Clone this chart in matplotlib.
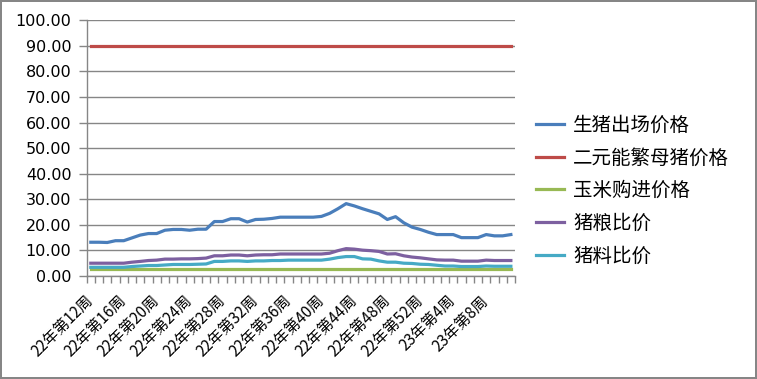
import numpy as np
import matplotlib
matplotlib.use("Agg")
import matplotlib.pyplot as plt

plt.rcParams['font.family'] = ['Noto Sans CJK SC', 'DejaVu Sans']

# === Datos ===
semanas_22 = list(range(12, 53))
semanas_23 = list(range(1, 12))
categorias = [f"22年第{w}周" for w in semanas_22] + [f"23年第{w}周" for w in semanas_23]

precio_cerdo = [13.2, 13.2, 13.1, 13.8, 13.8, 14.9, 16.0, 16.6, 16.6, 17.9,
                18.2, 18.2, 17.9, 18.3, 18.3, 21.3, 21.3, 22.4, 22.4, 21.1,
                22.1, 22.2, 22.5, 23.0, 23.0, 23.0, 23.0, 23.0, 23.3, 24.5,
                26.3, 28.3, 27.4, 26.3, 25.3, 24.3, 22.1, 23.2, 20.8, 19.1,
                18.2, 17.1, 16.2, 16.2, 16.2, 15.0, 15.0, 15.0, 16.2, 15.7,
                15.7, 16.2]
precio_cerda = [90.0] * 52
precio_maiz = [2.7, 2.7, 2.7, 2.7, 2.7, 2.7, 2.7, 2.7, 2.7, 2.7,
               2.7, 2.7, 2.7, 2.7, 2.7, 2.7, 2.7, 2.7, 2.7, 2.7,
               2.7, 2.7, 2.7, 2.7, 2.7, 2.7, 2.7, 2.7, 2.7, 2.7,
               2.7, 2.7, 2.7, 2.7, 2.7, 2.7, 2.7, 2.7, 2.7, 2.7,
               2.7, 2.7, 2.7, 2.7, 2.7, 2.7, 2.7, 2.7, 2.7, 2.7,
               2.7, 2.7]
ratio_grano = [5.0, 5.0, 5.0, 5.0, 5.0, 5.4, 5.7, 6.05, 6.2, 6.6,
               6.6, 6.7, 6.7, 6.8, 7.0, 7.9, 7.9, 8.2, 8.2, 7.9,
               8.2, 8.3, 8.3, 8.6, 8.6, 8.6, 8.6, 8.6, 8.6, 8.9,
               9.9, 10.7, 10.5, 10.1, 9.9, 9.6, 8.6, 8.7, 7.9, 7.4,
               7.1, 6.7, 6.3, 6.2, 6.2, 5.8, 5.8, 5.8, 6.2, 6.05,
               6.05, 6.05]
ratio_pienso = [3.4, 3.4, 3.4, 3.4, 3.4, 3.7, 3.9, 4.1, 4.1, 4.3,
                4.5, 4.5, 4.5, 4.6, 4.7, 5.7, 5.7, 5.9, 5.9, 5.7,
                5.9, 5.9, 6.05, 6.05, 6.2, 6.2, 6.2, 6.2, 6.2, 6.6,
                7.2, 7.6, 7.6, 6.7, 6.6, 5.9, 5.4, 5.4, 5.0, 4.9,
                4.6, 4.5, 4.2, 3.9, 3.9, 3.7, 3.7, 3.7, 3.9, 3.8,
                3.8, 3.8]

series = [
    ("生猪出场价格", precio_cerdo, "#4A7EBB"),
    ("二元能繁母猪价格", precio_cerda, "#BE4B48"),
    ("玉米购进价格", precio_maiz, "#98B954"),
    ("猪粮比价", ratio_grano, "#7D60A0"),
    ("猪料比价", ratio_pienso, "#46AAC5"),
]

gris = "#868686"

# === Gráfico ===
fig = plt.figure(figsize=(7.57, 3.79), dpi=100)
fig.patch.set_edgecolor(gris)
fig.patch.set_linewidth(1.5)
ax = fig.add_axes([0.1145, 0.2718, 0.5658, 0.6746])

x = np.arange(len(categorias))
for nombre, valores, color in series:
    ax.plot(x, valores, color=color, linewidth=2.3, label=nombre,
            solid_joinstyle='round')

ax.set_xlim(-0.5, len(categorias) - 0.5)
ax.set_ylim(0, 100)
ax.set_yticks(np.arange(0, 101, 10))
ax.set_yticklabels([f"{v:.2f}" for v in range(0, 101, 10)],
                   fontfamily='DejaVu Sans', fontsize=11.5)
ax.yaxis.grid(True, color=gris, linewidth=1)
ax.set_axisbelow(True)

# marcas entre categorías y etiquetas cada 4 semanas
ax.set_xticks(np.arange(-0.5, len(categorias), 1))
ax.set_xticklabels([])
ax.set_xticks(x[::4], minor=True)
ax.set_xticklabels(categorias[::4], minor=True, rotation=45, ha='right',
                   va='center', rotation_mode='anchor', fontsize=11)
ax.tick_params(axis='x', which='major', length=5, color=gris, width=1)
ax.tick_params(axis='x', which='minor', length=0, pad=16)
ax.tick_params(axis='y', length=6, color=gris, width=1, pad=5)

for lado in ("top", "right"):
    ax.spines[lado].set_visible(False)
for lado in ("left", "bottom"):
    ax.spines[lado].set_color(gris)
    ax.spines[lado].set_linewidth(1)

ax.legend(loc='center left', bbox_to_anchor=(0.698, 0.497),
          bbox_transform=fig.transFigure, frameon=False, fontsize=14,
          handlelength=1.45, handletextpad=0.45, labelspacing=0.6,
          borderaxespad=0)

fig.savefig("out.png", dpi=100)
